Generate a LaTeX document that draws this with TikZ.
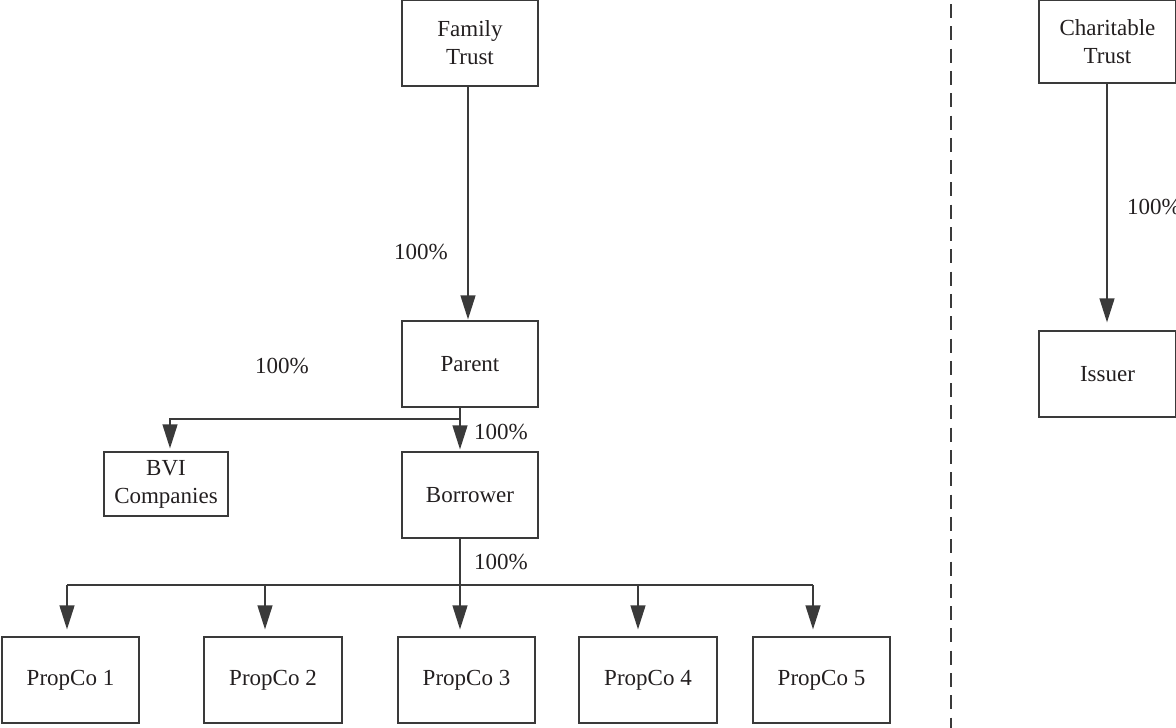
\documentclass[tikz,border=0pt]{standalone}
\usepackage{fontspec}
\setmainfont{Liberation Serif}
\usetikzlibrary{arrows.meta}
\definecolor{ln}{HTML}{3A3A3A}
\definecolor{tx}{HTML}{231F20}
\begin{document}
\begin{tikzpicture}[x=1pt,y=-1pt,
  box/.style={draw=ln, line width=1.3pt, inner sep=0pt, align=center,
    font=\fontsize{23}{28}\selectfont, text=tx},
  arr/.style={draw=ln, line width=1.3pt, -{Triangle[width=15pt,length=24pt]}},
  conn/.style={draw=ln, line width=1.3pt},
  lbl/.style={font=\fontsize{23}{28}\selectfont, text=tx, inner sep=0pt}]
\useasboundingbox (0,0) rectangle (1176,728);
% boxes
\node[box, minimum width=136pt, minimum height=86pt] (ft) at (470,43) {Family\\Trust};
\node[box, minimum width=136pt, minimum height=86pt] (pa) at (470,364) {Parent};
\node[box, minimum width=136pt, minimum height=86pt] (bo) at (470,495) {Borrower};
\node[box, minimum width=124pt, minimum height=64pt] (bvi) at (166,484) {BVI\\Companies};
\node[box, minimum width=137pt, minimum height=86pt] (p1) at (70.5,680) {PropCo 1};
\node[box, minimum width=138pt, minimum height=86pt] (p2) at (273,680) {PropCo 2};
\node[box, minimum width=137pt, minimum height=86pt] (p3) at (466.5,680) {PropCo 3};
\node[box, minimum width=138pt, minimum height=86pt] (p4) at (648,680) {PropCo 4};
\node[box, minimum width=137pt, minimum height=86pt] (p5) at (821.5,680) {PropCo 5};
\node[box, minimum width=137pt, minimum height=83pt] (ct) at (1107.5,41.5) {Charitable\\Trust};
\node[box, minimum width=137pt, minimum height=86pt] (is) at (1107.5,374) {Issuer};
% labels
\node[lbl] (l1) at (421,252) {100\%};
\node[lbl] (l2) at (282,366) {100\%};
\node[lbl, anchor=west] (l3) at (474,432) {100\%};
\node[lbl, anchor=west] (l4) at (474,562) {100\%};
\node[lbl, anchor=west] (l5) at (1127,207) {100\%};
% connector coordinates
\coordinate (a1) at (468,0);
\coordinate (pj) at (460,419);
\coordinate (bj) at (170,419);
\coordinate (bb) at (460,585);
\coordinate (c1) at (67,585);
\coordinate (c2) at (265,585);
\coordinate (c3) at (460,585);
\coordinate (c4) at (638,585);
\coordinate (c5) at (813,585);
\coordinate (a2) at (1107,0);
% connectors
\draw[arr, shorten >=1pt] (ft.south -| a1) -- (pa.north -| a1);
\draw[conn] (pa.south -| pj) -- (pj);
\draw[arr, shorten >=2pt] (pj) -- (bo.north -| pj);
\draw[arr, shorten >=3pt] (pj) -- (bj) -- (bvi.north -| bj);
\draw[conn] (bo.south -| bb) -- (bb);
\draw[conn] (c1) -- (c5);
\draw[arr, shorten >=7pt] (c1) -- (p1.north -| c1);
\draw[arr, shorten >=7pt] (c2) -- (p2.north -| c2);
\draw[arr, shorten >=7pt] (c3) -- (p3.north -| c3);
\draw[arr, shorten >=7pt] (c4) -- (p4.north -| c4);
\draw[arr, shorten >=7pt] (c5) -- (p5.north -| c5);
\draw[arr, shorten >=8pt] (ct.south -| a2) -- (is.north -| a2);
% divider
\draw[ln, line width=1.3pt, dash pattern=on 14pt off 8.3pt] (951,4) -- (951,728);
\end{tikzpicture}
\end{document}
